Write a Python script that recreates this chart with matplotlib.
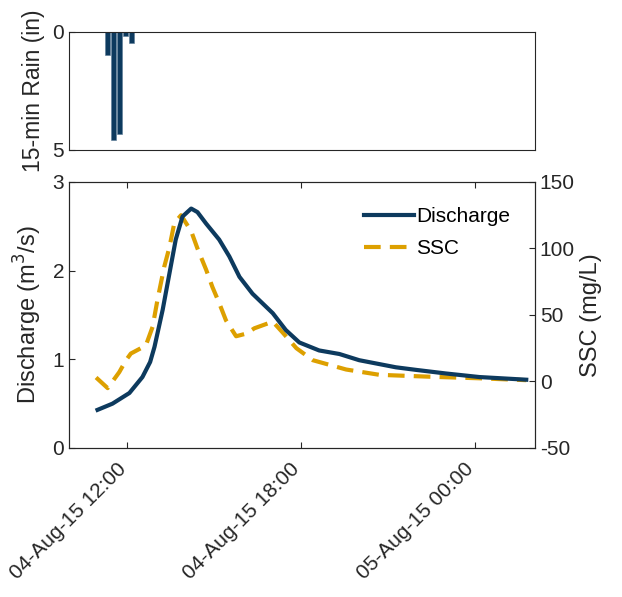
import matplotlib
matplotlib.use("Agg")
import matplotlib.pyplot as plt
import matplotlib.dates as mdates
from matplotlib.transforms import ScaledTranslation
import pandas as pd

plt.rcParams['font.family'] = ['Liberation Sans', 'DejaVu Sans']
plt.rcParams['axes.unicode_minus'] = False

# ---- data ----
rain_times = ["2015-08-04 11:20", "2015-08-04 11:32", "2015-08-04 11:44",
              "2015-08-04 11:57", "2015-08-04 12:09"]
rain_in = [1.0, 4.6, 4.35, 0.18, 0.5]

q_times = ["2015-08-04 10:59", "2015-08-04 11:30", "2015-08-04 12:05", "2015-08-04 12:32",
           "2015-08-04 12:48", "2015-08-04 12:57", "2015-08-04 13:14", "2015-08-04 13:28",
           "2015-08-04 13:41", "2015-08-04 13:55", "2015-08-04 14:13", "2015-08-04 14:26",
           "2015-08-04 14:44", "2015-08-04 15:11", "2015-08-04 15:32", "2015-08-04 15:53",
           "2015-08-04 16:20", "2015-08-04 17:02", "2015-08-04 17:29", "2015-08-04 17:57",
           "2015-08-04 18:38", "2015-08-04 19:20", "2015-08-04 20:01", "2015-08-04 21:17",
           "2015-08-04 22:00", "2015-08-04 23:01", "2015-08-05 00:10", "2015-08-05 01:47"]
discharge = [0.43, 0.50, 0.62, 0.80,
             0.97, 1.14, 1.56, 1.97,
             2.35, 2.61, 2.70, 2.66,
             2.53, 2.35, 2.16, 1.93,
             1.74, 1.52, 1.33, 1.19,
             1.10, 1.06, 0.99, 0.91,
             0.88, 0.84, 0.80, 0.77]

ssc_times = ["2015-08-04 10:56", "2015-08-04 11:20", "2015-08-04 11:44", "2015-08-04 11:58",
             "2015-08-04 12:08", "2015-08-04 12:39", "2015-08-04 12:53", "2015-08-04 13:03",
             "2015-08-04 13:17", "2015-08-04 13:28", "2015-08-04 13:38", "2015-08-04 13:52",
             "2015-08-04 14:13", "2015-08-04 14:26", "2015-08-04 14:44", "2015-08-04 14:57",
             "2015-08-04 15:11", "2015-08-04 15:25", "2015-08-04 15:46", "2015-08-04 16:07",
             "2015-08-04 16:24", "2015-08-04 17:02", "2015-08-04 17:22", "2015-08-04 17:51",
             "2015-08-04 18:25", "2015-08-04 19:34", "2015-08-04 20:43", "2015-08-04 22:26",
             "2015-08-05 00:10", "2015-08-05 01:47"]
ssc = [3, -5, 7, 16,
       21, 27, 41, 61,
       86, 101, 119, 125,
       113, 100, 84, 71,
       59, 46, 34, 36,
       40, 45, 37, 25,
       16, 9, 5, 3.6,
       2.4, 1]

x_ticks = ["2015-08-04 12:00", "2015-08-04 18:00", "2015-08-05 00:00"]
x_range = ["2015-08-04 10:00", "2015-08-05 02:05"]

# ---- styles ----
navy = '#0d3a5e'
orange = '#dda000'
axc = '#262626'
fs = 15
lfs = 17

rt = pd.to_datetime(rain_times)
qt = pd.to_datetime(q_times)
st = pd.to_datetime(ssc_times)
xt = pd.to_datetime(x_ticks)
xr = pd.to_datetime(x_range)

fig = plt.figure(figsize=(6.22, 5.97), dpi=100)
ax_r = fig.add_axes([0.111, 0.749, 0.749, 0.198])
ax = fig.add_axes([0.111, 0.2496, 0.749, 0.4456])
ax2 = ax.twinx()

def style(a):
    for s in a.spines.values():
        s.set_color(axc)
        s.set_linewidth(0.8)
    a.tick_params(colors=axc, labelsize=fs, direction='in', length=4, width=0.8)

# rain panel
ax_r.bar(rt, rain_in, width=10/1440, color=navy, edgecolor='#5a7a95', linewidth=0.4)
ax_r.set_xlim(xr[0], xr[1])
ax_r.set_ylim(5, 0)
ax_r.set_yticks([0, 5])
ax_r.set_xticks([])
ax_r.set_ylabel('15-min Rain (in)', fontsize=16.5, color=axc, labelpad=5)
style(ax_r)
ax_r.tick_params(axis='x', length=0)

# discharge / SSC panel
l1, = ax.plot(qt, discharge, color=navy, lw=3, label='Discharge', zorder=3,
              solid_joinstyle='round')
l2, = ax2.plot(st, ssc, color=orange, lw=3, ls=(0, (4.0, 2.2)), label='SSC', zorder=2)
ax.set_xlim(xr[0], xr[1])
ax.set_ylim(0, 3)
ax.set_yticks([0, 1, 2, 3])
ax2.set_ylim(-50, 150)
ax2.set_yticks([-50, 0, 50, 100, 150])
ax.set_xticks(xt)
ax.xaxis.set_major_formatter(mdates.DateFormatter('%d-%b-%y %H:%M'))
style(ax)
style(ax2)
ax.tick_params(axis='x', top=True, bottom=True, pad=13)
ax2.tick_params(axis='y', right=True, left=False)
shift = ScaledTranslation(-0.04, 0, fig.dpi_scale_trans)
for lab in ax.get_xticklabels():
    lab.set_rotation(45)
    lab.set_ha('right')
    lab.set_va('center')
    lab.set_rotation_mode('anchor')
    lab.set_transform(lab.get_transform() + shift)
ax.set_ylabel('Discharge (m$^3$/s)', fontsize=lfs, color=axc, labelpad=6)
ax2.set_ylabel('SSC (mg/L)', fontsize=lfs, color=axc, labelpad=4)

ax.set_zorder(ax2.get_zorder() + 1)
ax.patch.set_visible(False)

leg = ax.legend([l1, l2], ['Discharge', 'SSC'], loc='upper right', frameon=False,
                fontsize=15, handlelength=2.4, handletextpad=0.1,
                borderaxespad=0.8, labelspacing=0.62)

fig.savefig('out.png', dpi=100)
